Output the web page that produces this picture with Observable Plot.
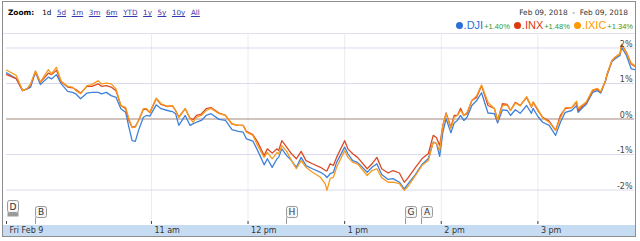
<!DOCTYPE html>
<html><head><meta charset="utf-8">
<script src="https://cdn.jsdelivr.net/npm/d3@7"></script>
<script src="https://cdn.jsdelivr.net/npm/@observablehq/plot@0.6"></script>
<style>
body{margin:0;background:#fff;}
#wrap{position:relative;width:640px;height:241px;overflow:hidden;font-family:"DejaVu Sans",Verdana,sans-serif;}
#frame{position:absolute;left:2px;top:1px;width:634px;height:236px;border:1px solid #8d8d8d;box-sizing:border-box;}
#zoom{position:absolute;left:8px;top:8px;font-size:7.2px;color:#000;white-space:nowrap;}
#zoom b{margin-right:3px;font-size:7.4px}
#zoom span{margin-left:5px}
#zoom a{color:#3535b0;text-decoration:underline;margin-left:5.6px}
#dates{position:absolute;right:12px;top:8px;font-size:7.4px;color:#333;white-space:pre}
#legend{position:absolute;right:7px;top:19px;display:flex;align-items:baseline;white-space:nowrap;font-family:"Liberation Sans",Arial,sans-serif}
#legend .dot{display:inline-block;width:7px;height:7px;border-radius:50%;margin-right:1px;margin-left:4px}
#legend .nm{font-size:11px}
#legend .ch{font-size:7.5px;color:#2f9a2f;margin-left:1px}
#band{position:absolute;left:3px;top:225px;width:632px;height:11px;background:#c6dcf3}
#topline{position:absolute;left:3px;top:33px;width:632px;height:1px;background:#e2e2ee}
#chart{position:absolute;left:0;top:33px}
</style></head>
<body>
<div id="wrap">
  <div id="band"></div>
  <div id="topline"></div>
  <div id="chart"></div>
  <div id="frame"></div>
  <div id="zoom"></div>
  <div id="dates"></div>
  <div id="legend"></div>
</div>
<script>
// ---- data ----
const times = ["9:30","9:36","9:40","9:43","9:45","9:48","9:51","9:56","9:58","10:01",
"10:04","10:08","10:11","10:13","10:16","10:20","10:23","10:27","10:29","10:32",
"10:35","10:38","10:41","10:44","10:46","10:48","10:50","10:52","10:55","10:57",
"10:59","11:03","11:06","11:10","11:13","11:15","11:17","11:21","11:24","11:26",
"11:28","11:31","11:34","11:37","11:42","11:46","11:50","11:54","11:57","11:59",
"12:03","12:06","12:10","12:12","12:15","12:18","12:19","12:21","12:24","12:27",
"12:30","12:33","12:36","12:40","12:45","12:48","12:49","12:51","12:53","12:55",
"13:00","13:02","13:05","13:08","13:14","13:17","13:20","13:23","13:27","13:30",
"13:34","13:37","13:39","13:44","13:48","13:52","13:55","13:57","13:59","14:01",
"14:03","14:06","14:08","14:10","14:12","14:14","14:16","14:19","14:22","14:25",
"14:29","14:33","14:35","14:38","14:41","14:43","14:46","14:49","14:53","14:56",
"14:57","15:00","15:03","15:07","15:11","15:14","15:17","15:21","15:24","15:25",
"15:28","15:30","15:34","15:37","15:39","15:42","15:43","15:46","15:48","15:51",
"15:52","15:55","15:58","16:00"];

const ixic = [1.38,1.23,0.80,0.86,0.99,1.35,1.04,1.39,1.27,1.46,
1.06,0.92,0.90,0.80,0.71,0.94,0.97,1.08,0.99,1.01,
0.99,0.85,0.38,0.33,0.01,-0.24,-0.23,-0.04,0.29,0.29,
0.19,0.59,0.43,0.36,0.38,0.24,0.05,0.29,0.01,-0.09,
0.05,0.10,0.24,0.30,0.15,0.10,-0.14,-0.18,-0.18,-0.37,
-0.46,-0.75,-1.08,-0.94,-1.12,-0.94,-0.98,-0.75,-0.91,-1.17,
-1.40,-1.17,-1.36,-1.50,-1.64,-1.83,-2.01,-1.68,-1.64,-1.36,
-0.89,-1.08,-1.22,-1.26,-1.59,-1.45,-1.40,-1.65,-1.78,-1.78,
-1.82,-2.01,-1.92,-1.59,-1.31,-1.17,-0.65,-0.69,-0.89,-0.18,
0.15,-0.27,0.05,0.10,0.24,0.10,0.19,0.52,0.66,0.96,
0.47,0.29,-0.04,0.38,0.39,0.24,0.45,0.37,0.63,0.35,
0.49,0.27,0.03,-0.09,-0.32,0.03,0.32,0.32,0.50,0.30,
0.41,0.48,0.82,0.86,0.77,1.08,1.27,1.65,1.74,1.84,
2.10,1.85,1.57,1.51];

const inx = [1.25,1.14,0.80,0.86,0.97,1.34,1.03,1.29,1.25,1.37,
1.04,0.90,0.88,0.83,0.73,0.92,0.92,0.99,0.92,0.94,
0.90,0.80,0.38,0.29,-0.04,-0.23,-0.21,-0.04,0.27,0.27,
0.18,0.57,0.41,0.35,0.38,0.24,0.05,0.29,0.02,-0.01,
0.10,0.14,0.29,0.32,0.17,0.10,-0.14,-0.18,-0.18,-0.35,
-0.44,-0.65,-1.03,-0.84,-0.96,-0.84,-0.89,-0.61,-0.79,-0.98,
-1.12,-0.91,-1.17,-1.26,-1.36,-1.45,-1.46,-1.26,-1.31,-1.08,
-0.61,-0.84,-0.98,-1.08,-1.40,-1.26,-1.08,-1.40,-1.52,-1.45,
-1.52,-1.78,-1.68,-1.36,-1.12,-0.97,-0.46,-0.52,-0.75,-0.18,
0.17,-0.23,0.10,0.10,0.30,0.10,0.15,0.52,0.61,0.94,
0.38,0.30,-0.04,0.43,0.41,0.24,0.47,0.38,0.61,0.33,
0.47,0.24,0.05,-0.06,-0.32,0.10,0.29,0.32,0.47,0.24,
0.38,0.45,0.80,0.85,0.75,1.08,1.27,1.65,1.74,1.84,
2.10,1.87,1.55,1.49];

const dji = [1.30,1.14,0.80,0.85,0.90,1.32,0.97,1.18,1.13,1.25,
0.99,0.78,0.75,0.71,0.57,0.73,0.75,0.75,0.71,0.75,
0.66,0.61,0.29,0.19,-0.23,-0.61,-0.63,-0.32,0.05,0.10,
0.08,0.40,0.29,0.24,0.21,0.15,-0.18,0.10,-0.18,-0.13,
-0.09,-0.04,0.10,0.15,-0.01,-0.04,-0.30,-0.35,-0.37,-0.56,
-0.62,-0.89,-1.29,-1.12,-1.36,-1.12,-1.08,-0.84,-1.03,-1.17,
-1.36,-1.08,-1.31,-1.40,-1.50,-1.59,-1.65,-1.54,-1.50,-1.22,
-0.79,-0.98,-1.17,-1.22,-1.50,-1.36,-1.26,-1.56,-1.70,-1.68,
-1.78,-1.97,-1.85,-1.56,-1.28,-1.11,-0.65,-0.69,-1.05,-0.37,
0.01,-0.39,-0.11,-0.04,0.10,-0.04,0.05,0.38,0.52,0.74,
0.17,0.15,-0.11,0.26,0.24,0.10,0.26,0.16,0.38,0.16,
0.30,0.07,-0.09,-0.18,-0.46,-0.09,0.19,0.24,0.38,0.19,
0.33,0.41,0.75,0.80,0.73,1.08,1.24,1.62,1.70,1.79,
2.02,1.79,1.41,1.39];

const seriesNames = ["DJI","INX","IXIC"];
const seriesColors = ["#3f80d9","#dc4a25","#f79b1e"];
const legendColors = ["#2b6fd6","#dc3912","#ff9900"];
const legendChanges = ["+1.40%","+1.48%","+1.34%"];

const zoomLinks = ["5d","1m","3m","6m","YTD","1y","5y","10y","All"];
const dateRange = "Feb 09, 2018  -  Feb 09, 2018";

const xTickTimes = ["9:30","11:00","12:00","13:00","14:00","15:00"];
const xTickLabels = ["Fri Feb 9","11 am","12 pm","1 pm","2 pm","3 pm"];
const gridTimes = ["11:00","12:00","13:00","14:00","15:00"];
const yTicks = [-2,-1,0,1,2];
const yGrid = [-2,-1,1,2];

const flagLetters = ["D","B","H","G","A"];
const flagTimes = ["9:30","9:48","12:24","13:38","13:48"];

// ---- header ----
const z = document.getElementById("zoom");
z.innerHTML = "<b>Zoom:</b><span>1d</span>" + zoomLinks.map(l=>`<a>${l}</a>`).join("");
document.getElementById("dates").textContent = dateRange;
const lg = document.getElementById("legend");
seriesNames.forEach((n,i)=>{
  lg.insertAdjacentHTML("beforeend",
    `<span class="dot" style="background:${legendColors[i]}"></span><span class="nm" style="color:${legendColors[i]}">.${n}</span><span class="ch">${legendChanges[i]}</span>`);
});

// ---- chart ----
const parse = t => { const [h,m] = t.split(":").map(Number); return new Date(2018,1,9,h,m); };
const rows = [];
[dji, inx, ixic].forEach((vals, k) => {
  times.forEach((t,i) => rows.push({series: seriesNames[k], time: parse(t), value: vals[i]}));
});
const tickDates = xTickTimes.map(parse);
const labelOf = new Map(tickDates.map((d,i)=>[+d, xTickLabels[i]]));

const chart = Plot.plot({
  width: 640, height: 204,
  marginLeft: 6, marginRight: 6, marginTop: 1, marginBottom: 13,
  style: {background: "transparent", fontFamily: "'DejaVu Sans', Verdana, sans-serif", fontSize: "8px", overflow: "visible"},
  x: {type: "time", domain: [parse("9:30"), parse("16:00")]},
  y: {domain: [-2.97, 2.38]},
  color: {domain: seriesNames, range: seriesColors},
  marks: [
    Plot.gridX(gridTimes.map(parse), {stroke: "#ebebf3", strokeOpacity: 1}),
    Plot.gridY(yGrid, {stroke: "#dadaee", strokeOpacity: 1}),
    Plot.ruleY([0], {stroke: "#a3887e", strokeWidth: 1.2}),
    Plot.line(rows, {x: "time", y: "value", z: "series", stroke: "series", strokeWidth: 1.3, curve: "linear"}),
    Plot.axisY(yTicks, {anchor: "right", tickSize: 0, tickPadding: 0, textAnchor: "end", dx: -2, dy: -4,
      tickFormat: d => d + "%", fill: "#444", label: null}),
    Plot.ruleX(tickDates, {insetTop: 187, stroke: "#444"}),
    Plot.axisX(tickDates, {anchor: "bottom", tickSize: 0, tickPadding: 3, textAnchor: "start", dx: 3,
      tickFormat: d => labelOf.get(+d), fill: "#333", label: null})
  ]
});
document.getElementById("chart").appendChild(chart);

// ---- event flags, positioned with the chart's x scale ----
const sx = chart.scale("x");
const svg = d3.select(chart);
const g = svg.append("g");
flagLetters.forEach((L, i) => {
  const x0 = Math.round(sx.apply(parse(flagTimes[i]))) + 0.5;
  const isD = L === "D";
  const top = isD ? 167.5 : 173.5;
  const h = isD ? 12 : 11;
  const fx = isD ? x0 + 1 : x0;
  if (!isD) g.append("line").attr("x1", fx).attr("x2", fx).attr("y1", top + h).attr("y2", 191).attr("stroke", "#999");
  if (isD) g.append("rect").attr("x", fx).attr("y", top + h).attr("width", 11).attr("height", 4).attr("fill", "#9a9a9a");
  g.append("rect").attr("x", fx).attr("y", top).attr("width", 11).attr("height", h)
    .attr("rx", 2).attr("fill", "#f6f6f6").attr("stroke", "#9a9a9a");
  g.append("text").attr("x", fx + 5.5).attr("y", top + h/2 + 3.3).attr("text-anchor", "middle")
    .attr("font-size", "9px").attr("fill", "#333").text(L);
});
</script>
</body></html>
